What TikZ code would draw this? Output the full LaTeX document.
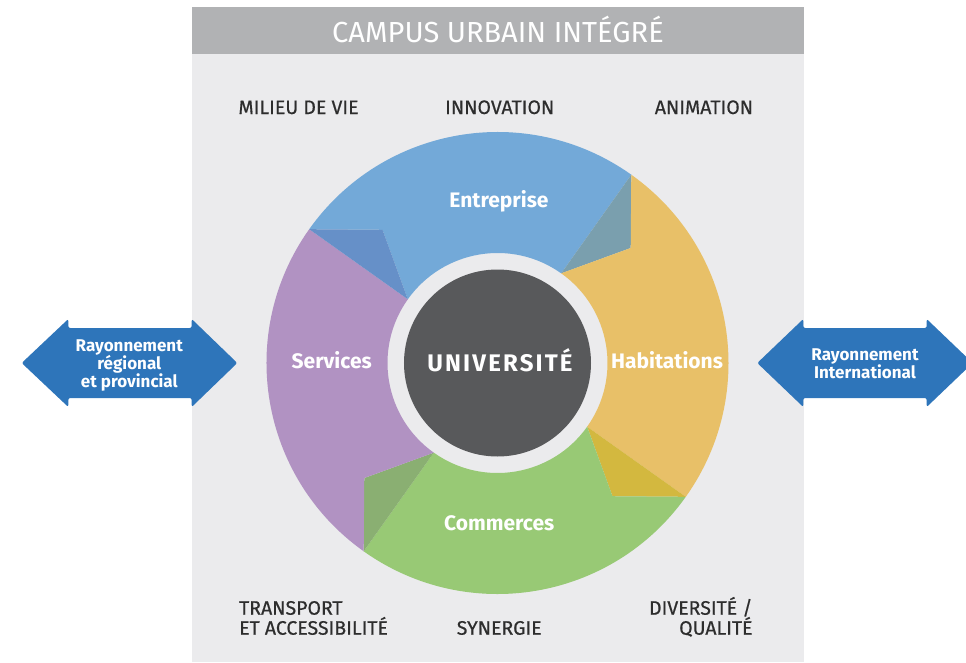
\documentclass[tikz,border=0pt]{standalone}
\usepackage{fontspec}
\setmainfont{Fira Sans}
\usepackage{xcolor}
\usepackage{tikz}
\usetikzlibrary{positioning}

\definecolor{panel}{HTML}{EBEBED}
\definecolor{header}{HTML}{B1B2B4}
\definecolor{labelgray}{HTML}{2D2D2D}
\definecolor{hub}{HTML}{58595B}
\definecolor{rayon}{HTML}{2E75BA}
\definecolor{entreprise}{HTML}{73A9D8}
\definecolor{entreprise-tip}{HTML}{7A9FAE}
\definecolor{habitations}{HTML}{E8C068}
\definecolor{habitations-tip}{HTML}{D3B83F}
\definecolor{commerces}{HTML}{98C975}
\definecolor{commerces-tip}{HTML}{8AAF72}
\definecolor{services}{HTML}{B192C2}
\definecolor{services-tip}{HTML}{6690C8}

\tikzstyle{corner} = [text=labelgray, inner sep=0pt, font=\fontsize{19.5}{22}\selectfont\addfontfeatures{FakeBold=0.5}]
\tikzstyle{sector} = [text=white, inner sep=0pt, font=\bfseries\fontsize{21}{24}\selectfont]
\tikzstyle{rayon-text} = [text=white, align=center, inner sep=0pt, font=\bfseries\fontsize{17}{18}\selectfont]
\tikzstyle{rayon-arrow} = [fill=rayon, rounded corners=2pt]

% one arrow of the ring: start angle, body colour, tip colour
\newcommand*\Segment[3]{%
  \fill[#2] (#1:231) arc[start angle=#1, end angle=#1-90, radius=231]
    -- (#1-90:110) arc[start angle=#1-90, end angle=#1, radius=110]
    -- (#1-13.8:176) -- cycle;
  \fill[#3] (#1-90:231) -- (#1-103.8:176) -- (#1-90:110) -- cycle;}

\begin{document}
\begin{tikzpicture}[x=1pt, y=1pt]

  \useasboundingbox (-497.5,-299) rectangle (468.5,363);
  \clip (-497.5,-299) rectangle (468.5,363);

  % Panel and title bar
  \fill[panel] (-305.5,-299) rectangle (306.5,356);
  \fill[header] (-305.5,309) rectangle (306.5,356);
  \node (title) [text=white, inner sep=0pt, anchor=base, font=\fontsize{29}{32}\selectfont]
    at (0.5,320) {CAMPUS URBAIN INTÉGRÉ};

  % Ring
  \Segment{144.6}{entreprise}{entreprise-tip}
  \Segment{54.6}{habitations}{habitations-tip}
  \Segment{-35.4}{commerces}{commerces-tip}
  \Segment{-125.4}{services}{services-tip}

  % Nodes
  \node (univ) [circle, fill=hub, minimum size=187pt, inner sep=0pt] at (0,0) {};
  \node (univ-text) [text=white, inner sep=0pt, anchor=base,
    font=\bfseries\fontsize{24}{26}\selectfont\addfontfeatures{LetterSpace=9}] at (2.5,-8) {UNIVERSITÉ};
  \node (entreprise) [sector, anchor=base] at (1.5,155.5) {Entreprise};
  \node (habitations) [sector, anchor=base] at (169.5,-5.3) {Habitations};
  \node (commerces) [sector, anchor=base] at (1.7,-167.7) {Commerces};
  \node (services) [sector, anchor=base] at (-165.8,-5.3) {Services};

  % Corner labels
  \node (milieu) [corner, anchor=base west] at (-259.2,249) {MILIEU DE VIE};
  \node (innovation) [corner, anchor=base] at (2.2,249) {INNOVATION};
  \node (animation) [corner, anchor=base east] at (255.8,249) {ANIMATION};
  \node (transport) [corner, anchor=base west] at (-258.5,-251.7) {TRANSPORT};
  \node (accessibilite) [corner, below=20pt of transport.base west, anchor=base west] {ET ACCESSIBILITÉ};
  \node (synergie) [corner, anchor=base] at (1.7,-271.7) {SYNERGIE};
  \node (diversite) [corner, anchor=base east] at (255.2,-251.7) {DIVERSITÉ /};
  \node (qualite) [corner, below=20pt of diversite.base east, anchor=base east] {QUALITÉ};

  % Double arrows
  \fill[rayon-arrow] (-475.8,0) -- (-429.2,44) -- (-429.2,35) -- (-305.8,35) -- (-305.8,44)
    -- (-260.2,0) -- (-305.8,-44) -- (-305.8,-35) -- (-429.2,-35) -- (-429.2,-44) -- cycle;
  \fill[rayon-arrow] (259.8,0) -- (305.8,44) -- (305.8,35) -- (429.2,35) -- (429.2,44)
    -- (475.2,0) -- (429.2,-44) -- (429.2,-35) -- (305.8,-35) -- (305.8,-44) -- cycle;
  \node (regional) [rayon-text] at (-368.2,-2) {Rayonnement\\régional\\et provincial};
  \node (international) [rayon-text] at (367.5,-1) {Rayonnement\\International};

\end{tikzpicture}
\end{document}
